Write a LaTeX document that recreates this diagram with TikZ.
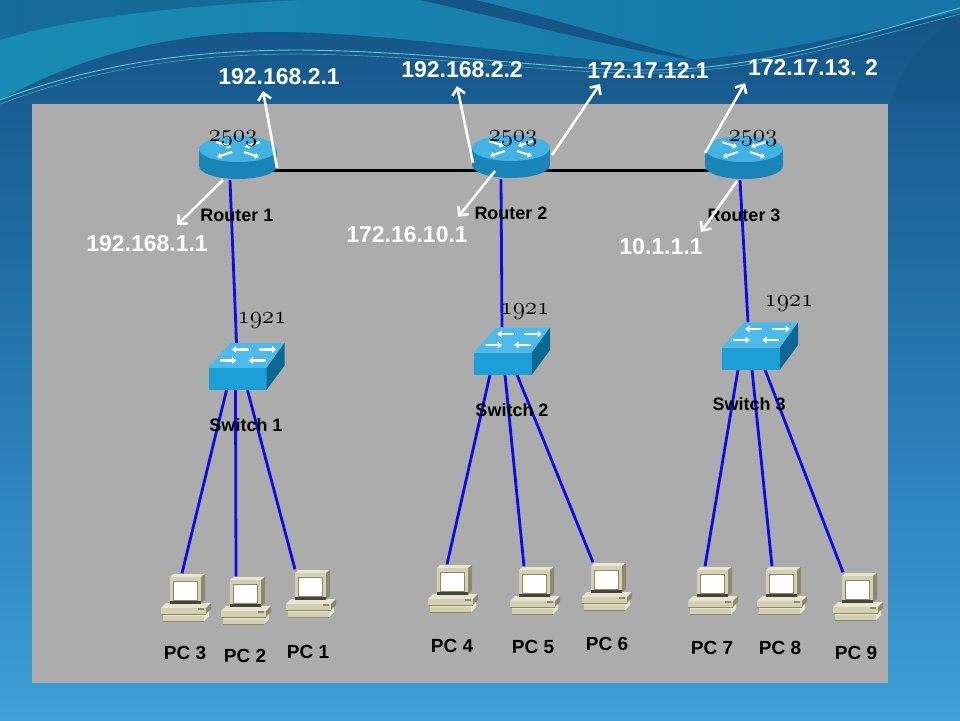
\documentclass[tikz,border=0pt]{standalone}
\usepackage{fontspec}
\setmainfont{Liberation Sans}
\usetikzlibrary{arrows.meta,calc}
\definecolor{panelgray}{RGB}{172,172,172}
\definecolor{bgtop}{RGB}{20,84,134}
\definecolor{bgmid}{RGB}{36,118,174}
\definecolor{bgbot}{RGB}{62,160,214}
\definecolor{tealL}{RGB}{24,140,178}
\definecolor{tealR}{RGB}{22,116,166}
\definecolor{rtop}{RGB}{66,178,226}
\definecolor{rside}{RGB}{24,132,184}
\definecolor{swtop}{RGB}{76,186,234}
\definecolor{swfront}{RGB}{28,158,214}
\definecolor{swside}{RGB}{12,104,146}
\definecolor{pcbeige}{RGB}{212,208,180}
\definecolor{pcdark}{RGB}{140,136,108}
\definecolor{pclight}{RGB}{232,230,210}
\definecolor{pcblack}{RGB}{70,70,56}
\definecolor{linkblue}{RGB}{12,12,228}
\definecolor{wave}{RGB}{110,215,225}
\newcommand{\osnum}[1]{{\fontencoding{OML}\fontfamily{lmm}\fontseries{m}\fontshape{it}\fontsize{23}{26}\selectfont #1}}
\begin{document}
\begin{tikzpicture}[x=1pt,y=-1pt,
  iplabel/.style={text=white,font=\fontsize{23}{26}\selectfont\bfseries,inner sep=0pt},
  devlabel/.style={text=black,font=\fontsize{18}{20}\selectfont\bfseries,inner sep=0pt},
  pclabel/.style={text=black,font=\fontsize{19}{21}\selectfont\bfseries,inner sep=0pt},
  numlabel/.style={text=black,inner sep=0pt},
  rnode/.style={minimum width=78pt,minimum height=46pt,inner sep=0pt},
  snode/.style={minimum width=77pt,minimum height=47pt,inner sep=0pt},
  pcnode/.style={minimum width=50pt,minimum height=47pt,inner sep=0pt},
  ptr/.style={draw=white,line width=2.6pt,-{Straight Barb[length=7pt,width=13pt]}},
  trunk/.style={draw=black,line width=3pt},
  lan/.style={draw=linkblue,line width=2.8pt},
  router/.pic={
    \fill[rside] (0,9) ellipse[x radius=39pt,y radius=13pt];
    \fill[rside] (-39,-8) rectangle (39,9);
    \fill[rtop] (0,-8) ellipse[x radius=39pt,y radius=13pt];
    \begin{scope}[white,line width=2.2pt,-{Triangle[length=4pt,width=6pt]}]
      \draw (-22,-15) -- (-7,-10);
      \draw (22,-15) -- (7,-10);
      \draw (-6,-5) -- (-21,0);
      \draw (6,-5) -- (21,0);
    \end{scope}
  },
  switch/.pic={
    \fill[swtop] (-38,1.5) -- (-16,-23.5) -- (38,-23.5) -- (20,1.5) -- cycle;
    \fill[swfront] (-38,1.5) rectangle (20,23.5);
    \fill[swside] (20,1.5) -- (38,-23.5) -- (38,-1) -- (20,23.5) -- cycle;
    \begin{scope}[white,line width=2.2pt,-{Triangle[length=4.5pt,width=6.5pt]}]
      \draw (2,-17) -- (-15,-17);
      \draw (12,-17) -- (30,-17);
      \draw (-27,-6) -- (-10,-6);
      \draw (19,-6) -- (2,-6);
    \end{scope}
  },
  pc/.pic={
    % base
    \fill[pclight] (-25,11) -- (-20,6) -- (25,6) -- (20,11) -- cycle;
    \fill[pcbeige] (-25,11) rectangle (20,17);
    \fill[pcdark] (20,11) -- (25,6) -- (25,12) -- (20,17) -- cycle;
    \fill[pclight] (-23,17) -- (20,17) -- (23,14) -- (23,19) -- (18,24) -- (-23,24) -- cycle;
    \fill[pcbeige] (-23,19) rectangle (18,24);
    \draw[pcdark,line width=0.8pt] (-25,17) -- (20,17) (-23,24) -- (18,24);
    \fill[pcdark] (12,11) rectangle (18,13);
    % monitor
    \fill[pclight] (-16,-20) -- (-13,-23) -- (19,-23) -- (15,-20) -- cycle;
    \fill[pcbeige] (-16,-20) rectangle (15,6);
    \fill[pcdark] (15,-20) -- (19,-23) -- (19,3) -- (15,6) -- cycle;
    \fill[pcblack] (-16,4) rectangle (15,7);
    \fill[white] (-13,-16) rectangle (11,3);
    \draw[pcdark,line width=0.8pt] (-13,-16) rectangle (11,3);
  }
]
\useasboundingbox (0,0) rectangle (960,720);
% ---------- background ----------
\shade[top color=bgtop,bottom color=bgbot,middle color=bgmid] (0,0) rectangle (960,720);
\shade[left color=tealL,right color=tealR] (0,0) -- (0,100) .. controls (90,50) and (190,30) .. (290,32)
   .. controls (420,35) and (560,62) .. (650,62) .. controls (740,62) and (860,32) .. (960,12) -- (960,0) -- cycle;
\fill[bgtop,opacity=0.55] (0,0) -- (0,40) .. controls (80,15) and (200,5) .. (300,0) -- cycle;
\fill[bgtop] (420,0) .. controls (520,22) and (620,50) .. (700,61) .. controls (610,36) and (520,10) .. (475,0) -- cycle;
\fill[bgtop,opacity=0.6] (960,18) .. controls (920,40) and (900,70) .. (890,104) -- (960,104) -- cycle;
\draw[wave,line width=0.9pt,opacity=0.85] (0,100) .. controls (100,62) and (200,50) .. (300,50)
   .. controls (450,52) and (550,70) .. (650,70) .. controls (760,70) and (860,35) .. (960,8);
\draw[wave,line width=0.6pt,opacity=0.6] (0,104) .. controls (100,66) and (200,54) .. (300,54)
   .. controls (450,56) and (550,74) .. (650,73) .. controls (760,72) and (860,40) .. (960,14);
% ---------- panel ----------
\fill[panelgray] (32,104) rectangle (888,683);
% ---------- device nodes ----------
\node[rnode] (r1) at (238,157) {};
\node[rnode] (r2) at (511,156) {};
\node[rnode] (r3) at (744,157) {};
\node[snode] (s1) at (246.5,366.5) {};
\node[snode] (s2) at (512,351) {};
\node[snode] (s3) at (760,346) {};
\node[pcnode] (pc3) at (186,597) {};
\node[pcnode] (pc2) at (246,600) {};
\node[pcnode] (pc1) at (311,593) {};
\node[pcnode] (pc4) at (453,588) {};
\node[pcnode] (pc5) at (535,590) {};
\node[pcnode] (pc6) at (607,586) {};
\node[pcnode] (pc7) at (713,590) {};
\node[pcnode] (pc8) at (782,590) {};
\node[pcnode] (pc9) at (858,596) {};
% ---------- links ----------
\draw[trunk] ($(r1.center)+(0,13)$) -- ($(r2.center)+(0,14)$) -- ($(r3.center)+(0,13)$);
\draw[lan] ($(r1.south)+(-8,0)$) -- ($(s1.north)+(-10,0)$);
\draw[lan] ($(r2.south)+(-10,0)$) -- ($(s2.north)+(-10,0)$);
\draw[lan] ($(r3.south)+(-4,0)$) -- ($(s3.north)+(-12,0)$);
\draw[lan] ($(s1.south)+(-20,0)$) -- ($(pc3.north)+(-4,0)$);
\draw[lan] ($(s1.south)+(-11,0)$) -- ($(pc2.north)+(-10,0)$);
\draw[lan] ($(s1.south)+(1,0)$) -- ($(pc1.north)+(-16,0)$);
\draw[lan] ($(s2.south)+(-22,0)$) -- ($(pc4.north)+(-6,0)$);
\draw[lan] ($(s2.south)+(-7,0)$) -- ($(pc5.north)+(-11,0)$);
\draw[lan] ($(s2.south)+(5,0)$) -- ($(pc6.north)+(-14,0)$);
\draw[lan] ($(s3.south)+(-22,0)$) -- ($(pc7.north)+(-8,0)$);
\draw[lan] ($(s3.south)+(-8,0)$) -- ($(pc8.north)+(-10,0)$);
\draw[lan] ($(s3.south)+(5,0)$) -- ($(pc9.north)+(-15,0)$);
% ---------- device graphics ----------
\foreach \n in {r1,r2,r3} { \pic at (\n) {router}; }
\foreach \n in {s1,s2,s3} { \pic at (\n) {switch}; }
\foreach \n in {pc1,pc2,pc3,pc4,pc5,pc6,pc7,pc8,pc9} { \pic at (\n) {pc}; }
% ---------- labels ----------
\node[numlabel] (n1) at (233,139) {\osnum{2503}};
\node[numlabel] (n2) at (513,139) {\osnum{2503}};
\node[numlabel] (n3) at (753,139) {\osnum{2503}};
\node[numlabel] (m1) at (262,321) {\osnum{1921}};
\node[numlabel] (m2) at (525,312) {\osnum{1921}};
\node[numlabel] (m3) at (789,304) {\osnum{1921}};
\node[devlabel] (lr1) at (237,215) {Router 1};
\node[devlabel] (lr2) at (511,213) {Router 2};
\node[devlabel] (lr3) at (744,215) {Router 3};
\node[devlabel] (ls1) at (246,425) {Switch 1};
\node[devlabel] (ls2) at (512,410) {Switch 2};
\node[devlabel] (ls3) at (749,404) {Switch 3};
\node[pclabel] (lpc3) at (185,653) {PC 3};
\node[pclabel] (lpc2) at (245,656) {PC 2};
\node[pclabel] (lpc1) at (308,652) {PC 1};
\node[pclabel] (lpc4) at (452,646) {PC 4};
\node[pclabel] (lpc5) at (533,647) {PC 5};
\node[pclabel] (lpc6) at (607,644) {PC 6};
\node[pclabel] (lpc7) at (712,648) {PC 7};
\node[pclabel] (lpc8) at (780,648) {PC 8};
\node[pclabel] (lpc9) at (856,653) {PC 9};
% ---------- IP labels ----------
\node[iplabel] (ip1) at (279,77) {192.168.2.1};
\node[iplabel] (ip2) at (462,70) {192.168.2.2};
\node[iplabel] (ip3) at (648,70) {172.17.12.1};
\node[iplabel] (ip4) at (813,68) {172.17.13. 2};
\node[iplabel] (ip5) at (147,244) {192.168.1.1};
\node[iplabel] (ip6) at (407,235) {172.16.10.1};
\node[iplabel] (ip7) at (661,247) {10.1.1.1};
% ---------- pointer arrows ----------
\coordinate (t1) at (263,91);
\coordinate (t2) at (177,225);
\coordinate (t3) at (457,86);
\coordinate (t4) at (600,84);
\coordinate (t5) at (458,217);
\coordinate (t6) at (745,83);
\coordinate (t7) at (701,232);
\draw[ptr] ($(r1.center)+(39,11)$) -- (t1);
\draw[ptr] ($(r1.center)+(-15,23)$) -- (t2);
\draw[ptr] ($(r2.center)+(-38,7)$) -- (t3);
\draw[ptr] ($(r2.center)+(41,-1)$) -- (t4);
\draw[ptr] ($(r2.center)+(-16,15)$) -- (t5);
\draw[ptr] ($(r3.center)+(-39,-4)$) -- (t6);
\draw[ptr] ($(r3.center)+(-7,24)$) -- (t7);
\end{tikzpicture}
\end{document}
